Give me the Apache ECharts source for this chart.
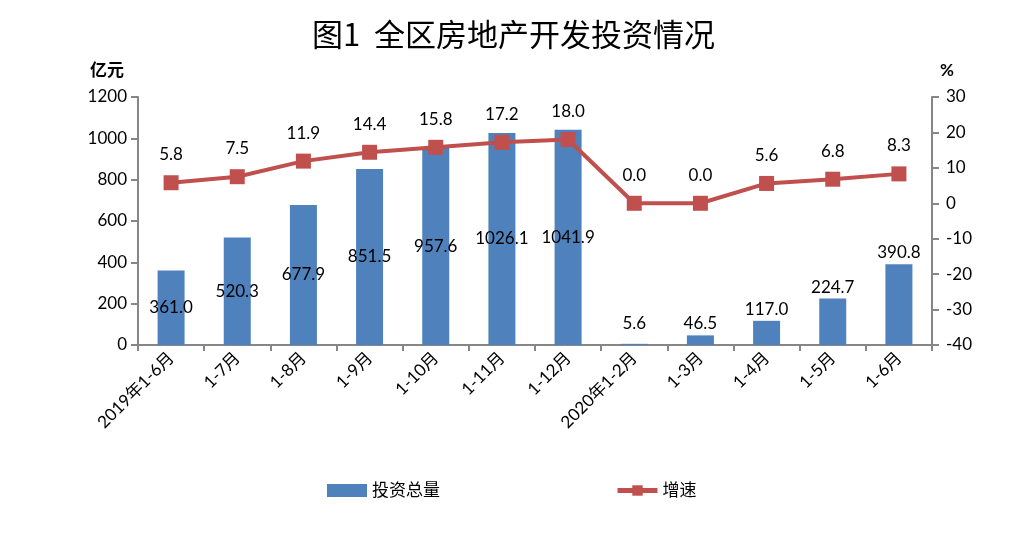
<!DOCTYPE html>
<html><head><meta charset="utf-8">
<script src="https://cdn.jsdelivr.net/npm/echarts@6/dist/echarts.min.js"></script>
<style>html,body{margin:0;padding:0;background:#fff}#c{width:1027px;height:535px}</style>
</head><body><div id="c"></div>
<script>
const categories = ['2019年1-6月','1-7月','1-8月','1-9月','1-10月','1-11月','1-12月','2020年1-2月','1-3月','1-4月','1-5月','1-6月'];
const investment = [361.0, 520.3, 677.9, 851.5, 957.6, 1026.1, 1041.9, 5.6, 46.5, 117.0, 224.7, 390.8];
const growth = [5.8, 7.5, 11.9, 14.4, 15.8, 17.2, 18.0, 0.0, 0.0, 5.6, 6.8, 8.3];
const leftTicks = {min: 0, max: 1200, interval: 200};
const rightTicks = {min: -40, max: 30, interval: 10};

const FONT = 'Lato, "Noto Sans CJK SC", sans-serif';
const AX = '#868686';
const FS = 17;
const chart = echarts.init(document.getElementById('c'), null, {renderer: 'canvas'});

const barData = investment.map((v, i) => ({
  value: v,
  label: i < 7 ? {position: 'inside'} : {position: 'top', distance: i === 7 ? 12 : 3}
}));

chart.setOption({
  animation: false,
  title: {
    text: '图1  全区房地产开发投资情况', left: 'center', top: 14,
    textStyle: {fontFamily: '"Noto Sans CJK SC", sans-serif', fontSize: 31, fontWeight: 'normal', color: '#000'}
  },
  legend: {
    left: 327, top: 482, padding: 0, itemGap: 175, itemWidth: 40, itemHeight: 13,
    textStyle: {fontFamily: FONT, fontSize: FS, color: '#000'},
    data: [
      {name: '投资总量', icon: 'rect', itemStyle: {color: '#4f81bd'}},
      {name: '增速', lineStyle: {width: 5, color: '#c0504d'}}
    ]
  },
  grid: {left: 138, right: 95, top: 97, bottom: 190},
  xAxis: {
    type: 'category', data: categories, boundaryGap: true,
    axisLine: {lineStyle: {color: AX, width: 2}},
    axisTick: {show: true, alignWithLabel: false, length: 6, lineStyle: {color: AX, width: 2}},
    axisLabel: {rotate: 45, fontFamily: FONT, fontSize: FS, color: '#000', margin: 10, interval: 0}
  },
  yAxis: [
    {
      type: 'value', min: leftTicks.min, max: leftTicks.max, interval: leftTicks.interval,
      name: '亿元', nameLocation: 'end', nameGap: 18,
      nameTextStyle: {fontFamily: FONT, fontSize: FS, fontWeight: 'bold', color: '#000', align: 'right', padding: [0, 14, 0, 0]},
      axisLine: {show: true, lineStyle: {color: AX, width: 2}},
      axisTick: {show: true, length: 7, lineStyle: {color: AX, width: 2}},
      axisLabel: {fontFamily: FONT, fontSize: FS, color: '#000', margin: 11, formatter: v => String(v)},
      splitLine: {show: false}
    },
    {
      type: 'value', min: rightTicks.min, max: rightTicks.max, interval: rightTicks.interval,
      name: '%', nameLocation: 'end', nameGap: 18,
      nameTextStyle: {fontFamily: FONT, fontSize: FS, fontWeight: 'bold', color: '#000', align: 'left', padding: [0, 0, 0, 8]},
      axisLine: {show: true, lineStyle: {color: AX, width: 2}},
      axisTick: {show: true, length: 7, lineStyle: {color: AX, width: 2}},
      axisLabel: {fontFamily: FONT, fontSize: FS, color: '#000', margin: 14, formatter: v => String(v)},
      splitLine: {show: false}
    }
  ],
  series: [
    {
      name: '投资总量', type: 'bar', yAxisIndex: 0, barWidth: 27,
      itemStyle: {color: '#4f81bd'},
      label: {show: true, fontFamily: FONT, fontSize: FS, color: '#000', formatter: p => p.value.toFixed(1)},
      data: barData
    },
    {
      name: '增速', type: 'line', yAxisIndex: 1,
      symbol: 'rect', symbolSize: 15,
      lineStyle: {color: '#c0504d', width: 4},
      itemStyle: {color: '#c0504d'},
      label: {show: true, position: 'top', distance: 12, fontFamily: FONT, fontSize: FS, color: '#000', formatter: p => p.value.toFixed(1)},
      data: growth
    }
  ]
});
</script></body></html>
